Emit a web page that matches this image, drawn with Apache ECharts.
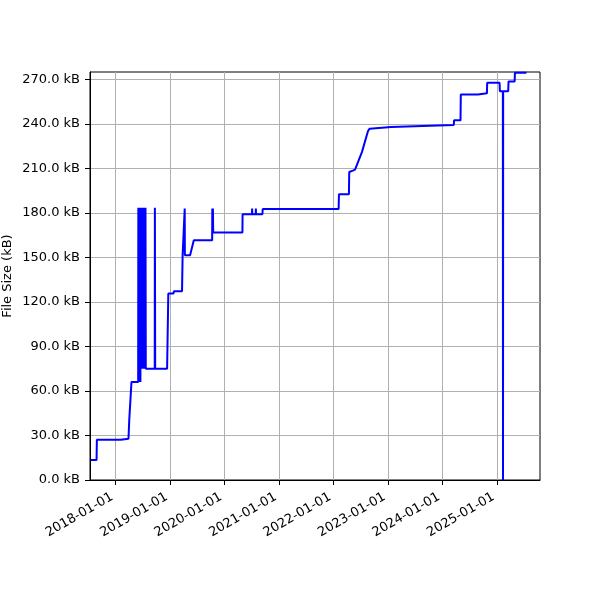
<!DOCTYPE html>
<html><head><meta charset="utf-8">
<script src="https://cdn.jsdelivr.net/npm/echarts@6/dist/echarts.min.js"></script>
<style>html,body{margin:0;padding:0;background:#fff}#c{width:600px;height:600px}</style>
</head><body><div id="c"></div>
<script>
const dates = [
 '2017-07-18','2017-08-26','2017-08-28','2018-02-04','2018-02-06','2018-03-28','2018-04-02','2018-04-17','2018-06-01',
 '2018-06-02','2018-06-04','2018-06-06','2018-06-08','2018-06-10','2018-06-12','2018-06-14','2018-06-16','2018-06-18','2018-06-20',
 '2018-06-22','2018-06-24','2018-06-26','2018-06-28','2018-06-30','2018-07-02','2018-07-04','2018-07-06','2018-07-08','2018-07-10',
 '2018-07-12','2018-07-14','2018-07-16','2018-07-18','2018-07-20','2018-07-22',
 '2018-09-20','2018-09-21','2018-09-23','2018-12-12','2018-12-20','2019-01-24','2019-01-27',
 '2019-03-22','2019-03-26','2019-04-08','2019-04-09','2019-04-10','2019-05-15','2019-06-09',
 '2019-10-10','2019-10-11','2019-10-14','2019-10-15','2019-10-17','2020-04-30','2020-05-01',
 '2020-07-03','2020-07-04','2020-07-05','2020-07-28','2020-07-29','2020-07-30','2020-09-11','2020-09-13',
 '2022-02-04','2022-02-06','2022-04-14','2022-04-16','2022-05-10','2022-05-25','2022-07-10','2022-08-20','2022-08-31','2022-09-10',
 '2023-01-22','2023-01-25','2024-03-17','2024-03-19','2024-05-01','2024-05-03','2024-08-26','2024-08-28',
 '2024-10-25','2024-10-27','2025-01-18','2025-01-20','2025-02-09','2025-02-10','2025-02-11',
 '2025-03-17','2025-03-19','2025-04-29','2025-05-01','2025-07-17'
];
const sizes = [
 13.5,13.5,27.1,27.1,27.8,27.8,40,66,66,
 183.5,66,183.5,66,183.5,66,183.5,66,183.5,75,
 183.5,75,183.5,75,183.5,75,183.5,75,183.5,75,
 183.5,75,183.5,75,183.5,75,
 75,183.5,75,75,125.7,125.7,127.2,
 127.2,151.5,151.5,183,151.5,151.5,161.6,
 161.6,183,166.8,183,166.8,166.8,179.1,
 179.1,183,179.1,179.1,183,179.1,179.1,182.7,
 182.7,192.6,192.6,207.6,208.5,209.2,221,235.2,236.8,237.9,
 237.9,239,239.3,242.4,242.4,259.9,259.9,260.6,
 260.6,267.8,267.8,262.1,262.1,0,262.1,
 262.1,268.6,268.6,274.5,274.5
];
const xTickLabels = ['2018-01-01','2019-01-01','2020-01-01','2021-01-01','2022-01-01','2023-01-01','2024-01-01','2025-01-01'];
const yTicks = [0,30,60,90,120,150,180,210,240,270];
const xMin = '2017-07-13', xMax = '2025-10-16';

const ts = s => Date.parse(s + 'T00:00:00Z');
const xTicks = xTickLabels.map(ts);
const pts = dates.map((d,i)=>[ts(d), sizes[i]]);
const fmt = v => new Date(v).toISOString().slice(0,10);

const chart = echarts.init(document.getElementById('c'), null, {renderer:'canvas'});
chart.setOption({
  animation:false,
  backgroundColor:'#fff',
  grid:{left:90,right:60,top:72,bottom:120,show:true,borderColor:'#000',borderWidth:1,containLabel:false,outerBoundsMode:'none'},
  xAxis:{
    type:'value', min:ts(xMin), max:ts(xMax),
    axisLine:{show:true,onZero:false,lineStyle:{color:'#000',width:1}},
    axisTick:{show:true,length:5,lineStyle:{color:'#000'},customValues:xTicks},
    axisLabel:{customValues:xTicks,formatter:fmt,rotate:30,color:'#000',fontSize:13,fontFamily:'DejaVu Sans',margin:14,padding:[0,4,0,0]},
    splitLine:{show:true,lineStyle:{color:'#b0b0b0',width:1},customValues:xTicks}
  },
  yAxis:{
    type:'value', min:0, max:275, interval:30,
    name:'File Size (kB)', nameLocation:'middle', nameGap:76, nameRotate:90, nameMoveOverlap:false,
    nameTextStyle:{color:'#000',fontSize:13,fontFamily:'DejaVu Sans'},
    axisLine:{show:true,lineStyle:{color:'#000',width:1}},
    axisTick:{show:true,length:5,lineStyle:{color:'#000'},customValues:yTicks},
    axisLabel:{customValues:yTicks,formatter:v=>v.toFixed(1)+' kB',color:'#000',fontSize:13,fontFamily:'DejaVu Sans',margin:10},
    splitLine:{show:true,lineStyle:{color:'#b0b0b0',width:1}}
  },
  series:[{type:'line',data:pts,showSymbol:false,symbol:'none',lineStyle:{color:'#0000ff',width:2},itemStyle:{color:'#0000ff'},clip:true}]
});
</script></body></html>
